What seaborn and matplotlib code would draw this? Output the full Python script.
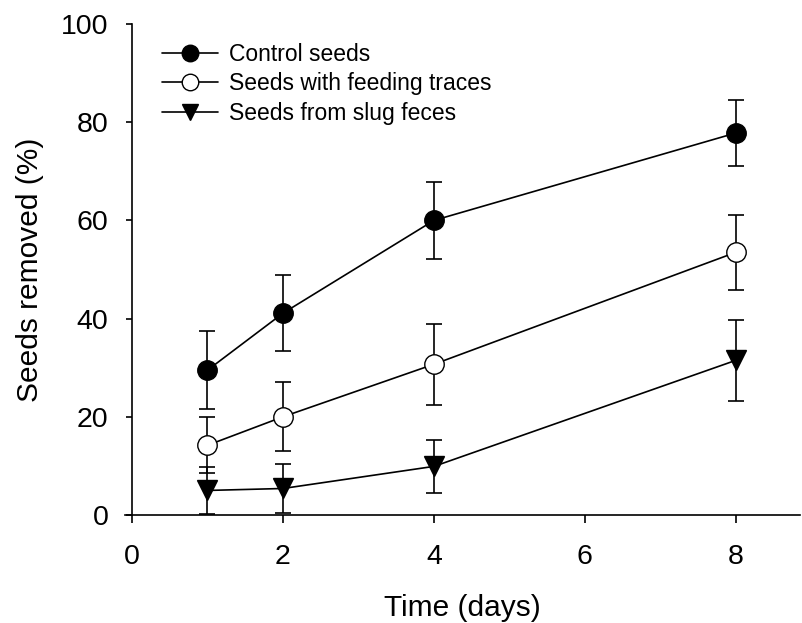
import numpy as np
import pandas as pd
import matplotlib
matplotlib.use("Agg")
import matplotlib.pyplot as plt
import seaborn as sns

days = [1, 2, 4, 8]
series_names = ["Control seeds", "Seeds with feeding traces", "Seeds from slug feces"]
control = [29.5, 41.1, 60.0, 77.8]
control_err = [7.9, 7.7, 7.8, 6.8]
feeding = [14.2, 20.0, 30.7, 53.5]
feeding_err = [5.7, 7.0, 8.3, 7.7]
feces = [5.0, 5.4, 9.9, 31.5]
feces_err = [4.8, 4.9, 5.4, 8.2]

sns.set_theme(style="ticks")
plt.rcParams['font.family'] = ['Liberation Sans', 'DejaVu Sans']
for k in ['text.color', 'axes.labelcolor', 'xtick.color', 'ytick.color', 'axes.edgecolor']:
    plt.rcParams[k] = 'black'

fig = plt.figure(figsize=(8.03, 6.23), dpi=100)
ax = fig.add_axes([125 / 803, 108 / 623, 675 / 803, 491 / 623])

styles = [
    dict(marker='o', markerfacecolor='black'),
    dict(marker='o', markerfacecolor='white'),
    dict(marker='v', markerfacecolor='black'),
]
vals = [control, feeding, feces]
errs = [control_err, feeding_err, feces_err]

for name, v, e, st in zip(series_names, vals, errs, styles):
    ax.errorbar(days, v, yerr=e, fmt='none', ecolor='black', elinewidth=1.2,
                capsize=6, capthick=1.2, zorder=2)
    df = pd.DataFrame({"Time": days, "Removed": v})
    sns.lineplot(data=df, x="Time", y="Removed", ax=ax, color='black', linewidth=1.2,
                 markersize=14, markeredgecolor='black', markeredgewidth=1.0,
                 label=name, zorder=3, **st)

ax.set_xlim(-0.093, 8.85)
ax.set_ylim(0, 100)
ax.spines['left'].set_position(('data', 0))
ax.set_xticks([0, 2, 4, 6, 8])
ax.set_yticks([0, 20, 40, 60, 80, 100])
ax.tick_params(axis='both', labelsize=20.5, direction='out', width=1.2, colors='black')
ax.tick_params(axis='x', length=6, pad=15)
ax.tick_params(axis='y', length=4, pad=13)
for s in ['top', 'right']:
    ax.spines[s].set_visible(False)
for s in ['left', 'bottom']:
    ax.spines[s].set_linewidth(1.2)
ax.set_xlabel("Time (days)", fontsize=21.5, labelpad=17)
ax.set_ylabel("Seeds removed (%)", fontsize=21.5, labelpad=12)

leg = ax.legend(loc='upper left', bbox_to_anchor=(0.055, 0.962), frameon=False, fontsize=16.5,
                handlelength=2.45, markerscale=0.85, labelspacing=0.29, handletextpad=0.45,
                borderpad=0, borderaxespad=0)

fig.savefig("out.png", dpi=100)
